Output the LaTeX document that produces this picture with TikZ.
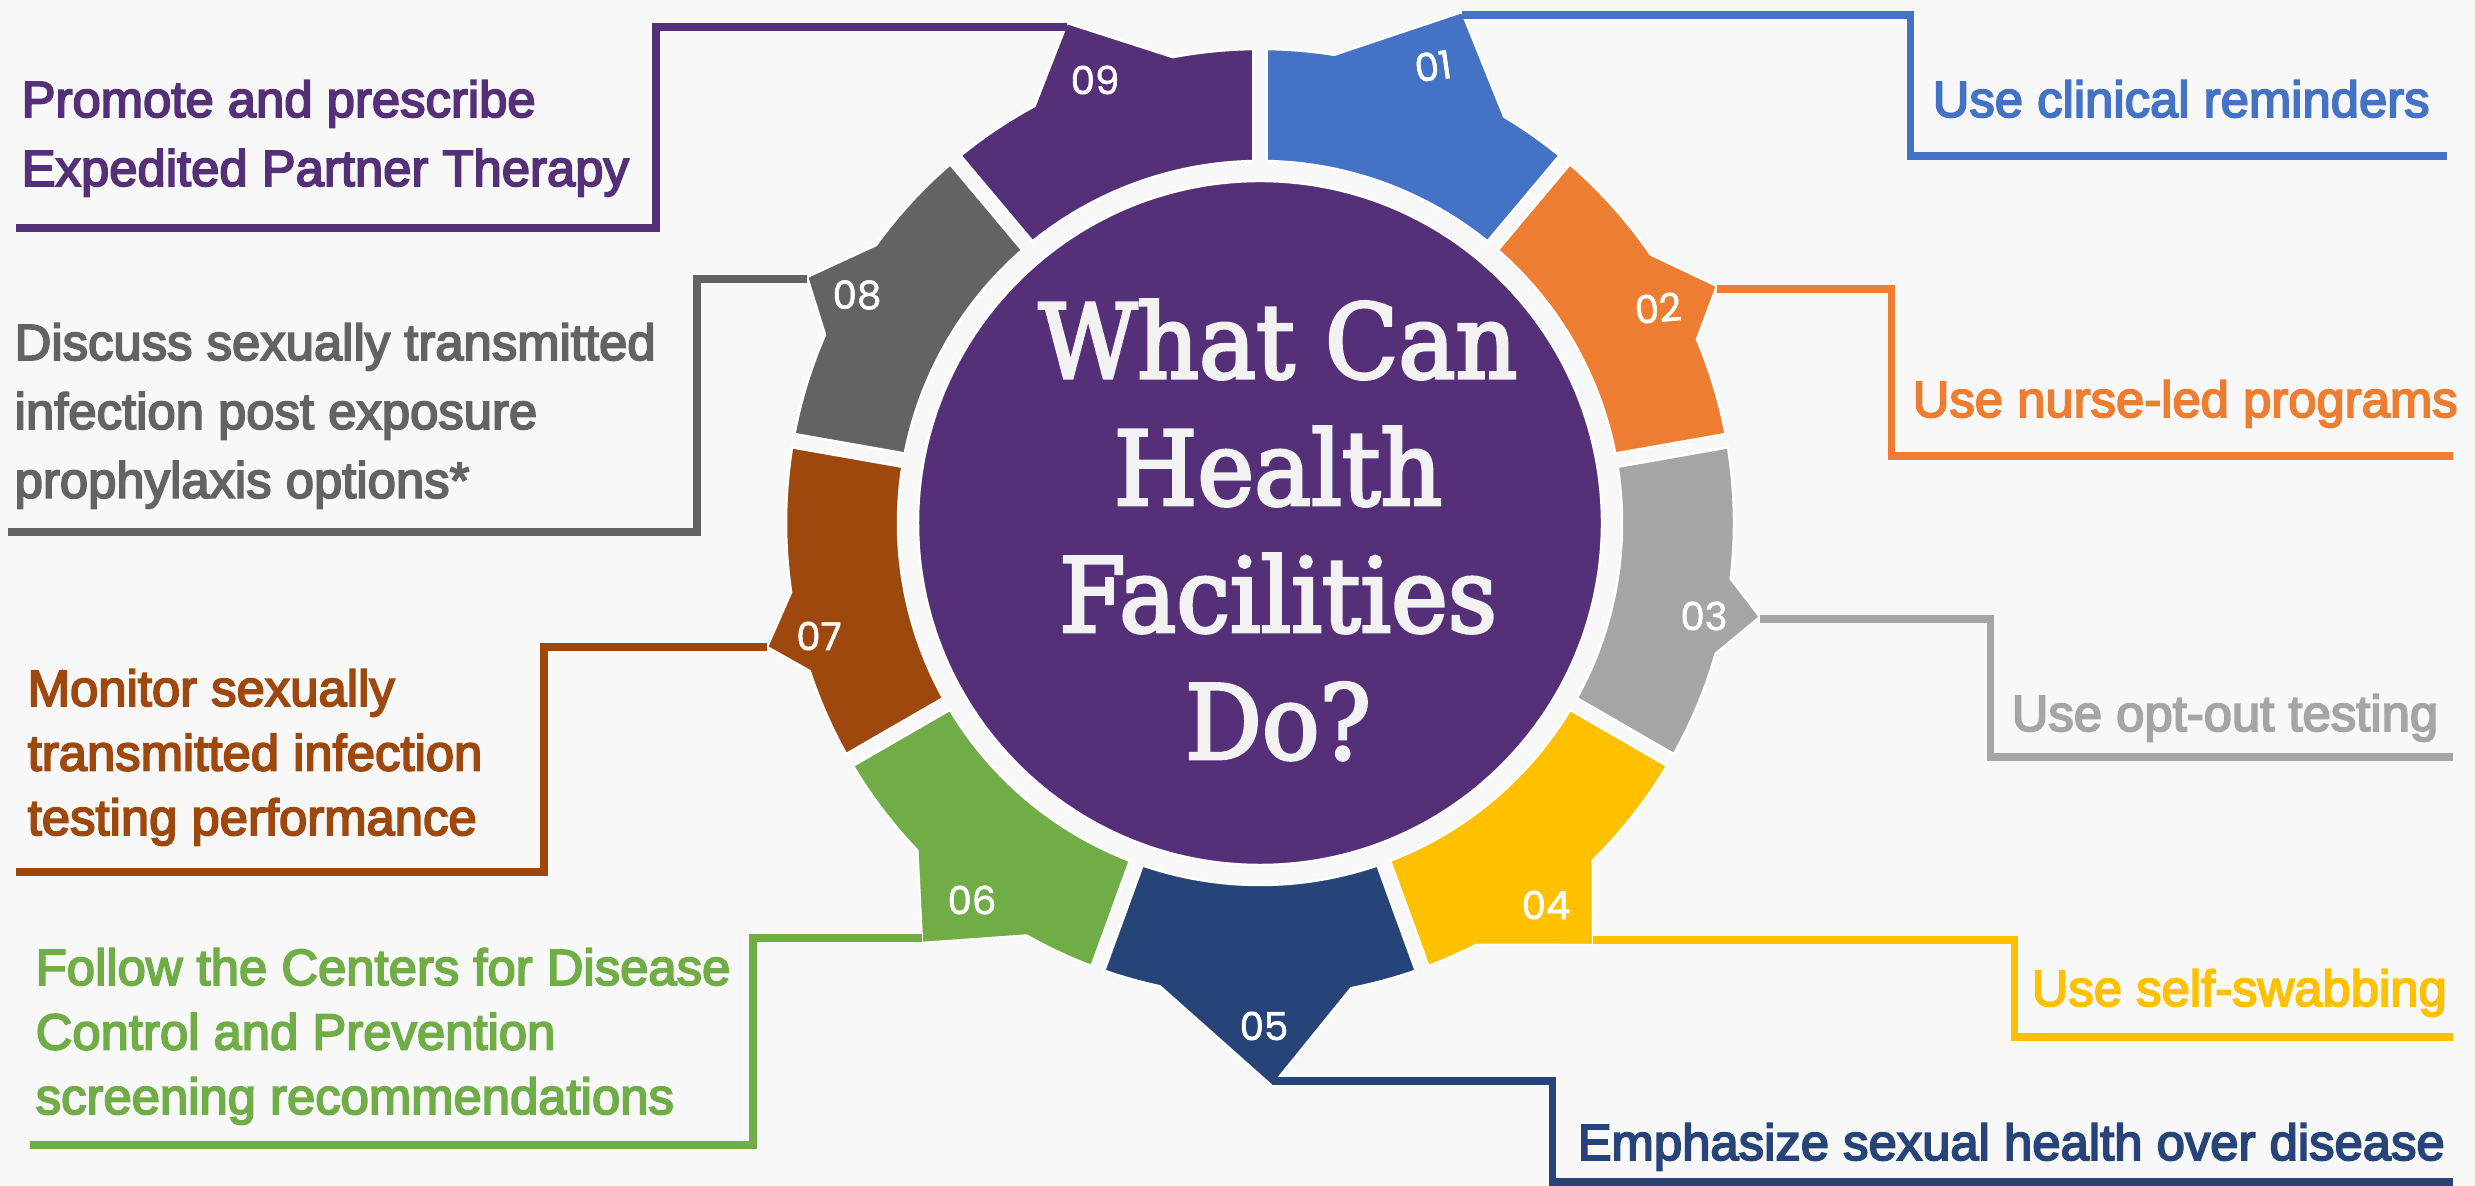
\documentclass[tikz,border=0pt]{standalone}
\usepackage{fontspec}
\usetikzlibrary{calc}
\newfontfamily\labfont{Liberation Sans}[FakeBold=3.5]
\newfontfamily\numfont{Poppins}[FakeBold=1.5]
\newfontfamily\ctrfont{DejaVu Serif}[FakeStretch=0.93, FakeBold=3]
\definecolor{c1}{HTML}{4472C4}
\definecolor{c2}{HTML}{ED7D31}
\definecolor{c3}{HTML}{A5A5A5}
\definecolor{c4}{HTML}{FFC000}
\definecolor{c5}{HTML}{264478}
\definecolor{c6}{HTML}{70AD47}
\definecolor{c7}{HTML}{9E480E}
\definecolor{c8}{HTML}{636363}
\definecolor{c9}{HTML}{553078}
\definecolor{bg}{HTML}{F8F8F8}
\definecolor{ctext}{HTML}{F2F2F2}
\tikzset{
  seg/.style={draw=white, line width=0.7pt, line join=round},
  conn/.style={line width=2pt, line cap=butt, line join=miter},
  lab/.style={inner sep=0pt, anchor=base west, font=\labfont\fontsize{14.45}{19.6}\selectfont},
  labB/.style={inner sep=0pt, anchor=base west, font=\labfont\fontsize{14.45}{18.35}\selectfont},
  num/.style={font=\numfont\fontsize{11}{13}\selectfont, text=white, inner sep=0pt},
  gapw/.style={white, line width=4.55pt},
  gapb/.style={bg, line width=3.1pt},
}
\begin{document}
\begin{tikzpicture}[x=0.01cm,y=0.01cm]
\useasboundingbox (0,0) rectangle (2475,-1186);
\fill[bg] (0,0) rectangle (2475,-1186);
\def\ri{362}
\def\ro{474}
\coordinate (C) at (1260,-523);
% tips and corners
\coordinate (t1) at (1462,-15);
\coordinate (t2) at (1717,-289);
\coordinate (t3) at (1760,-619);
\coordinate (t4) at (1593,-940);
\coordinate (t5) at (1272,-1081);
\coordinate (t6) at (922,-938);
\coordinate (t7) at (767,-647);
\coordinate (t8) at (807,-279);
\coordinate (t9) at (1067,-27);
% centre circle
\path[fill=c9, draw=white, line width=0.7pt] (C) circle[radius=342];
% segments
\path[seg, fill=c1] ($(C)+(90:\ro)$) arc[start angle=90, end angle=81, radius=\ro] -- (1462,-12) -- ($(C)+(59:\ro)$) arc[start angle=59, end angle=50, radius=\ro] -- ($(C)+(50:\ri)$) arc[start angle=50, end angle=90, radius=\ri] -- cycle;
\path[seg, fill=c2] ($(C)+(50:\ro)$) arc[start angle=50, end angle=34.5, radius=\ro] -- (1717,-286) -- ($(C)+(22.8:\ro)$) arc[start angle=22.8, end angle=10, radius=\ro] -- ($(C)+(10:\ri)$) arc[start angle=10, end angle=50, radius=\ri] -- cycle;
\path[seg, fill=c3] ($(C)+(10:\ro)$) arc[start angle=10, end angle=-6.75, radius=\ro] -- (1760,-617) -- ($(C)+(-16:\ro)$) arc[start angle=-16, end angle=-30, radius=\ro] -- ($(C)+(-30:\ri)$) arc[start angle=-30, end angle=10, radius=\ri] -- cycle;
\path[seg, fill=c4] ($(C)+(-30:\ro)$) arc[start angle=-30, end angle=-45.4, radius=\ro] -- (1593,-945) -- ($(C)+(-62.9:\ro)$) arc[start angle=-62.9, end angle=-70, radius=\ro] -- ($(C)+(-70:\ri)$) arc[start angle=-70, end angle=-30, radius=\ri] -- cycle;
\path[seg, fill=c5] ($(C)+(-70:\ro)$) arc[start angle=-70, end angle=-78.9, radius=\ro] -- (1272,-1086) -- ($(C)+(-102.2:\ro)$) arc[start angle=-102.2, end angle=-110, radius=\ro] -- ($(C)+(-110:\ri)$) arc[start angle=-110, end angle=-70, radius=\ri] -- cycle;
\path[seg, fill=c6] ($(C)+(-110:\ro)$) arc[start angle=-110, end angle=-119.5, radius=\ro] -- (922,-943) -- ($(C)+(-136.3:\ro)$) arc[start angle=-136.3, end angle=-150, radius=\ro] -- ($(C)+(-150:\ri)$) arc[start angle=-150, end angle=-110, radius=\ri] -- cycle;
\path[seg, fill=c7] ($(C)+(210:\ro)$) arc[start angle=210, end angle=198.2, radius=\ro] -- (767,-647) -- ($(C)+(188.4:\ro)$) arc[start angle=188.4, end angle=170, radius=\ro] -- ($(C)+(170:\ri)$) arc[start angle=170, end angle=210, radius=\ri] -- cycle;
\path[seg, fill=c8] ($(C)+(170:\ro)$) arc[start angle=170, end angle=156.6, radius=\ro] -- (807,-277) -- ($(C)+(144.1:\ro)$) arc[start angle=144.1, end angle=130, radius=\ro] -- ($(C)+(130:\ri)$) arc[start angle=130, end angle=170, radius=\ri] -- cycle;
\path[seg, fill=c9] ($(C)+(130:\ro)$) arc[start angle=130, end angle=118.4, radius=\ro] -- (1067,-23) -- ($(C)+(100.6:\ro)$) arc[start angle=100.6, end angle=90, radius=\ro] -- ($(C)+(90:\ri)$) arc[start angle=90, end angle=130, radius=\ri] -- cycle;
% gaps between segments
\foreach \a in {90,50,10,-30,-70,-110,-150,170,130}{
  \draw[gapw] ($(C)+(\a:\ri)$) -- ($(C)+(\a:\ro)$);
  \draw[gapb] ($(C)+(\a:\ri-3)$) -- ($(C)+(\a:\ro+3)$);
}
% connector bends and ends
\coordinate (v1) at (1910,-156); \coordinate (e1) at (2447,-156);
\coordinate (v2) at (1891,-456); \coordinate (e2) at (2453,-456);
\coordinate (v3) at (1990,-757); \coordinate (e3) at (2453,-757);
\coordinate (v4) at (2014,-1037); \coordinate (e4) at (2453,-1037);
\coordinate (v5) at (1552,-1182); \coordinate (e5) at (2453,-1182);
\coordinate (v6) at (753,-1145); \coordinate (e6) at (30,-1145);
\coordinate (v7) at (544,-872); \coordinate (e7) at (16,-872);
\coordinate (v8) at (697,-532); \coordinate (e8) at (8,-532);
\coordinate (v9) at (656,-228); \coordinate (e9) at (16,-228);
\draw[conn, c1] (t1) -| (v1) -- (e1);
\draw[conn, c2] (t2) -| (v2) -- (e2);
\draw[conn, c3] (t3) -| (v3) -- (e3);
\draw[conn, c4] (t4) -| (v4) -- (e4);
\draw[conn, c5] (t5) -| (v5) -- (e5);
\draw[conn, c6] (t6) -| (v6) -- (e6);
\draw[conn, c7] (t7) -| (v7) -- (e7);
\draw[conn, c8] (t8) -| (v8) -- (e8);
\draw[conn, c9] (t9) -| (v9) -- (e9);
% numbers
\node[num, rotate=8] (n1) at (1433,-66) {01};
\node[num, rotate=5] (n2) at (1658,-308) {02};
\node[num] (n3) at (1704,-616) {03};
\node[num] (n4) at (1546,-905) {04};
\node[num] (n5) at (1264,-1026) {05};
\node[num] (n6) at (972,-900) {06};
\node[num] (n7) at (819,-636) {07};
\node[num] (n8) at (857,-295) {08};
\node[num] (n9) at (1095,-80) {09};
% centre text
\node[inner sep=0pt, anchor=base, text=ctext, font=\ctrfont\fontsize{29.3}{36.1}\selectfont] (title) at (1278,-378)
  {\begin{tabular}[t]{@{}c@{}}What Can\\Health\\Facilities\\Do?\end{tabular}};
% labels
\node[lab, text=c1] (l1) at (1932,-117) {Use clinical reminders};
\node[lab, text=c2] (l2) at (1912,-417) {Use nurse-led programs};
\node[lab, text=c3] (l3) at (2011,-731) {Use opt-out testing};
\node[lab, text=c4] (l4) at (2031,-1006) {Use self-swabbing};
\node[lab, text=c5] (l5) at (1577,-1160) {Emphasize sexual health over disease};
\node[labB, text=c6] (l6) at (35,-985) {\begin{tabular}[t]{@{}l@{}}Follow the Centers for Disease\\Control and Prevention\\screening recommendations\end{tabular}};
\node[labB, text=c7] (l7) at (27,-706) {\begin{tabular}[t]{@{}l@{}}Monitor sexually\\transmitted infection\\testing performance\end{tabular}};
\node[lab, text=c8] (l8) at (14,-360) {\begin{tabular}[t]{@{}l@{}}Discuss sexually transmitted\\infection post exposure\\prophylaxis options*\end{tabular}};
\node[lab, text=c9] (l9) at (21,-117) {\begin{tabular}[t]{@{}l@{}}Promote and prescribe\\Expedited Partner Therapy\end{tabular}};
\end{tikzpicture}
\end{document}
